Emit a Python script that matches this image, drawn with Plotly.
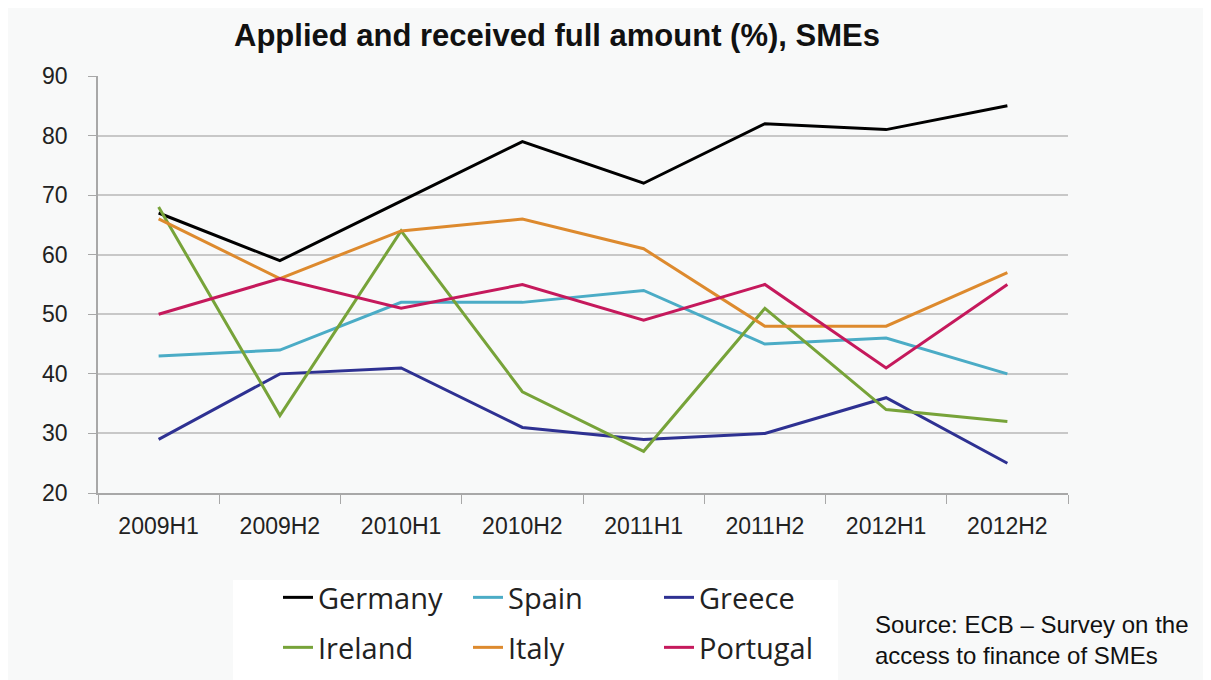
import plotly.graph_objects as go

periods = ["2009H1", "2009H2", "2010H1", "2010H2", "2011H1", "2011H2", "2012H1", "2012H2"]
germany = [67, 59, 69, 79, 72, 82, 81, 85]
spain = [43, 44, 52, 52, 54, 45, 46, 40]
greece = [29, 40, 41, 31, 29, 30, 36, 25]
ireland = [68, 33, 64, 37, 27, 51, 34, 32]
italy = [66, 56, 64, 66, 61, 48, 48, 57]
portugal = [50, 56, 51, 55, 49, 55, 41, 55]

series = [
    ("Germany", germany, "#000000"),
    ("Spain", spain, "#4bacc6"),
    ("Greece", greece, "#2e3192"),
    ("Ireland", ireland, "#77a339"),
    ("Italy", italy, "#dd8a2e"),
    ("Portugal", portugal, "#c5195c"),
]

OFF = 8  # page body margin
W, H = 1211 - OFF, 680 - OFF
L = 98 - OFF
T = 76 - OFF
R = W - (1068 - OFF)
B = H - (493 - OFF)
pw, ph = W - L - R, H - T - B


def px_x(x):
    return (x - OFF - L) / pw


def px_y(y):
    return (H - B - (y - OFF)) / ph


legend_font = dict(family="Open Sans, DejaVu Sans, sans-serif", size=29, color="#222222")
common = dict(orientation="v", bgcolor="rgba(0,0,0,0)", font=legend_font,
              xanchor="left", yanchor="top", itemwidth=30)

col_x = [278, 468, 659]
row_top = [572, 622]

fig = go.Figure()
legends = {}
for i, (name, vals, color) in enumerate(series):
    key = "legend" if i == 0 else f"legend{i + 1}"
    fig.add_trace(go.Scatter(x=periods, y=vals, mode="lines", name=name,
                             showlegend=True,
                             line=dict(color=color, width=3), legend=key))
    legends[key] = dict(x=px_x(col_x[i % 3]), y=px_y(row_top[i // 3]), **common)

fig.update_layout(
    width=W, height=H,
    showlegend=True,
    margin=dict(l=L, r=R, t=T, b=B, autoexpand=False),
    paper_bgcolor="#f8f9f9",
    plot_bgcolor="#f8f9f9",
    title=dict(text="<b>Applied and received full amount (%), SMEs</b>",
               x=(557 - OFF) / W, xanchor="center", y=1 - (35 - OFF) / H, yanchor="middle",
               font=dict(family="Arial, Liberation Sans, sans-serif", size=31, color="#111111")),
    font=dict(family="Arial, Liberation Sans, sans-serif", size=23, color="#222222"),
    xaxis=dict(
        range=[-0.5, 7.5],
        showgrid=False, showline=True, linecolor="#a8a8a8", linewidth=1.5,
        ticks="outside", tickson="boundaries", ticklen=9, tickcolor="#a8a8a8",
        ticklabelstandoff=12,
        tickfont=dict(size=23, color="#222222"),
    ),
    yaxis=dict(
        range=[20, 90], dtick=10, tick0=20,
        showgrid=True, gridcolor="#c8c8c8", gridwidth=1.5,
        showline=True, linecolor="#a8a8a8", linewidth=1.5,
        ticks="outside", ticklen=8, tickcolor="#a8a8a8",
        ticklabelstandoff=16,
        tickfont=dict(size=23, color="#222222"),
        zeroline=False,
    ),
    shapes=[
        dict(type="rect", xref="paper", yref="paper",
             x0=px_x(233), x1=px_x(838), y0=px_y(690), y1=px_y(580),
             fillcolor="#ffffff", line=dict(width=0), layer="below"),
    ],
    annotations=[
        dict(text="Source: ECB – Survey on the<br>access to finance of SMEs",
             xref="paper", yref="paper", x=px_x(873), y=px_y(609),
             xanchor="left", yanchor="top", align="left", showarrow=False,
             font=dict(family="Arial, Liberation Sans, sans-serif", size=24, color="#111111")),
    ],
    **legends,
)

fig.write_html("out.html")
